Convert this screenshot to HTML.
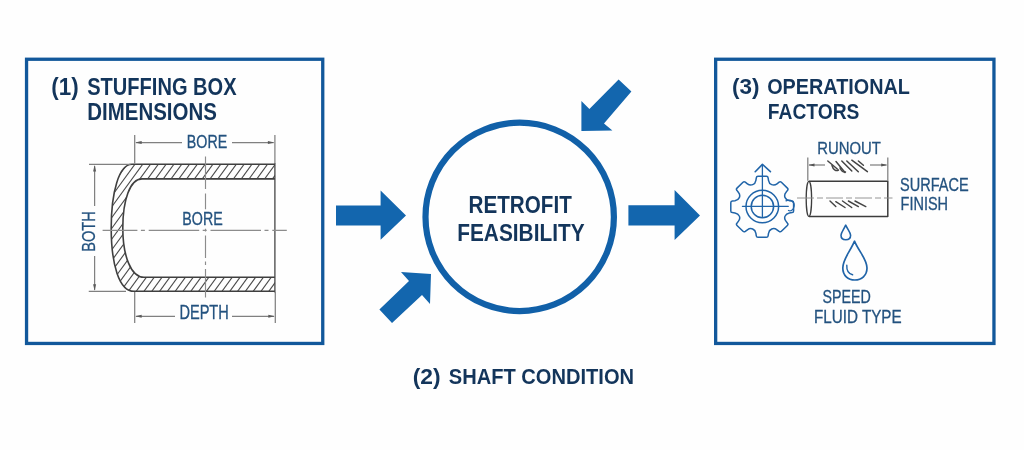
<!DOCTYPE html>
<html><head><meta charset="utf-8"><title>Retrofit Feasibility</title>
<style>
html,body{margin:0;padding:0;background:#fefefe;}
body{width:1024px;height:450px;overflow:hidden;font-family:"Liberation Sans",sans-serif;}
svg{display:block;}
text{font-family:"Liberation Sans",sans-serif;}
.h{font-weight:bold;fill:#13355b;}
.l{fill:#23527f;stroke:#23527f;stroke-width:0.3;}
.dk{stroke:#3a3a3a;fill:none;}
.th{stroke:#808080;fill:none;stroke-width:1.25;}
.cl{stroke:#8c8c8c;fill:none;stroke-width:1.15;}
.bl{stroke:#2064a8;fill:none;stroke-width:1.5;stroke-linecap:round;stroke-linejoin:round;}
.ar{fill:#1366ae;}
</style></head><body>
<svg width="1024" height="450" viewBox="0 0 1024 450" style="will-change:transform">
<defs>

</defs>
<rect width="1024" height="450" fill="#fefefe"/>

<!-- Box 1 -->
<rect x="26.55" y="59.25" width="296.2" height="284.2" fill="none" stroke="#12589b" stroke-width="3.3"/>
<text class="h" x="51.3" y="95.3" font-size="23.2" textLength="27.4" lengthAdjust="spacingAndGlyphs">(1)</text>
<text class="h" x="87.2" y="95.3" font-size="23.2" textLength="149.4" lengthAdjust="spacingAndGlyphs">STUFFING BOX</text>
<text class="h" x="87.2" y="120" font-size="23.2" textLength="129.7" lengthAdjust="spacingAndGlyphs">DIMENSIONS</text>

<!-- stuffing box drawing -->
<g>
<clipPath id="wall"><path d="M274.9,164.3 L132,164.3 C119,164.3 111.2,192 111.2,228 C111.2,264 119,291.3 134,291.3 L274.9,291.3 L274.9,277.3 L144,277.3 C131,277.3 122.8,256 122.8,228 C122.8,200 130,178.9 142,178.9 L274.9,178.9 Z"/></clipPath>
<g clip-path="url(#wall)" stroke="#484848" stroke-width="1.1"><line x1="8.0" y1="296" x2="106.8" y2="160"/><line x1="15.8" y1="296" x2="114.6" y2="160"/><line x1="23.6" y1="296" x2="122.4" y2="160"/><line x1="31.4" y1="296" x2="130.2" y2="160"/><line x1="39.2" y1="296" x2="138.0" y2="160"/><line x1="47.0" y1="296" x2="145.8" y2="160"/><line x1="54.8" y1="296" x2="153.6" y2="160"/><line x1="62.6" y1="296" x2="161.4" y2="160"/><line x1="70.4" y1="296" x2="169.2" y2="160"/><line x1="78.2" y1="296" x2="177.0" y2="160"/><line x1="86.0" y1="296" x2="184.8" y2="160"/><line x1="93.8" y1="296" x2="192.6" y2="160"/><line x1="101.6" y1="296" x2="200.4" y2="160"/><line x1="109.4" y1="296" x2="208.2" y2="160"/><line x1="117.2" y1="296" x2="216.0" y2="160"/><line x1="125.0" y1="296" x2="223.8" y2="160"/><line x1="132.8" y1="296" x2="231.6" y2="160"/><line x1="140.6" y1="296" x2="239.4" y2="160"/><line x1="148.4" y1="296" x2="247.2" y2="160"/><line x1="156.2" y1="296" x2="255.0" y2="160"/><line x1="164.0" y1="296" x2="262.8" y2="160"/><line x1="171.8" y1="296" x2="270.6" y2="160"/><line x1="179.6" y1="296" x2="278.4" y2="160"/><line x1="187.4" y1="296" x2="286.2" y2="160"/><line x1="195.2" y1="296" x2="294.0" y2="160"/><line x1="203.0" y1="296" x2="301.8" y2="160"/><line x1="210.8" y1="296" x2="309.6" y2="160"/><line x1="218.6" y1="296" x2="317.4" y2="160"/><line x1="226.4" y1="296" x2="325.2" y2="160"/><line x1="234.2" y1="296" x2="333.0" y2="160"/><line x1="242.0" y1="296" x2="340.8" y2="160"/><line x1="249.8" y1="296" x2="348.6" y2="160"/><line x1="257.6" y1="296" x2="356.4" y2="160"/><line x1="265.4" y1="296" x2="364.2" y2="160"/><line x1="273.2" y1="296" x2="372.0" y2="160"/><line x1="281.0" y1="296" x2="379.8" y2="160"/><line x1="288.8" y1="296" x2="387.6" y2="160"/></g>
<path d="M274.9,164.3 L132,164.3 C119,164.3 111.2,192 111.2,228 C111.2,264 119,291.3 134,291.3 L274.9,291.3 M274.9,277.3 L144,277.3 C131,277.3 122.8,256 122.8,228 C122.8,200 130,178.9 142,178.9 L274.9,178.9" fill="none" stroke="#3f3f3f" stroke-width="1.6" stroke-linejoin="round"/>
<line class="th" x1="274.9" y1="163" x2="274.9" y2="292.5" style="stroke-width:1.3;stroke:#444"/>
<!-- center lines -->
<line class="cl" x1="102.6" y1="230.4" x2="286.8" y2="230.4" stroke-dasharray="50.5 3.5 4 3.8" stroke-dashoffset="15.7"/>
<path class="cl" d="M205.5,156.4 V189 M205.5,193.5 V209.2 M205.5,228.7 V231.5 M205.5,235.5 V258 M205.5,261.5 V265 M205.5,269 V297.5"/>
<!-- top BORE dim -->
<line class="th" x1="134.7" y1="135" x2="134.7" y2="163.6"/>
<line class="th" x1="274.9" y1="135" x2="274.9" y2="163.6"/>
<line class="th" x1="136" y1="142.5" x2="182" y2="142.5"/>
<line class="th" x1="232" y1="142.5" x2="273.6" y2="142.5"/>
<path d="M135.2,142.5 l6.5,-1.5 v3 Z" fill="#5a5a5a"/>
<path d="M274.4,142.5 l-6.5,-1.5 v3 Z" fill="#5a5a5a"/>
<text class="l" x="186.8" y="148.1" font-size="17.6" textLength="40.4" lengthAdjust="spacingAndGlyphs">BORE</text>
<!-- middle BORE -->
<text class="l" x="182.3" y="224.8" font-size="17.9" textLength="40.4" lengthAdjust="spacingAndGlyphs">BORE</text>
<!-- bottom DEPTH dim -->
<line class="th" x1="134.7" y1="292" x2="134.7" y2="323"/>
<line class="th" x1="275.3" y1="292" x2="275.3" y2="323"/>
<line class="th" x1="136" y1="316.25" x2="175" y2="316.25"/>
<line class="th" x1="232" y1="316.25" x2="274" y2="316.25"/>
<path d="M135.2,316.25 l6.5,-1.5 v3 Z" fill="#5a5a5a"/>
<path d="M274.8,316.25 l-6.5,-1.5 v3 Z" fill="#5a5a5a"/>
<text class="l" x="179.4" y="318.75" font-size="19.5" textLength="49.4" lengthAdjust="spacingAndGlyphs">DEPTH</text>
<!-- BOTH dim -->
<line class="th" x1="89" y1="164.3" x2="130.6" y2="164.3"/>
<line class="th" x1="88.75" y1="291.25" x2="126" y2="291.25"/>
<line class="th" x1="94.6" y1="166" x2="94.6" y2="206"/>
<line class="th" x1="94.6" y1="256" x2="94.6" y2="290"/>
<path d="M94.6,165 l-1.5,6.5 h3 Z" fill="#5a5a5a"/>
<path d="M94.6,290.8 l-1.5,-6.5 h3 Z" fill="#5a5a5a"/>
<text class="l" transform="translate(94.7,251.8) rotate(-90)" x="0" y="0" font-size="17.9" textLength="40.5" lengthAdjust="spacingAndGlyphs">BOTH</text>
</g>

<!-- Arrows -->
<polygon class="ar" points="336,205.4 380.6,205.4 380.6,190.6 406,215.6 380.6,239.8 380.6,225.5 336,225.5"/>
<polygon class="ar" points="628.4,205.2 674.6,205.2 674.6,190 700,215.6 674.6,240 674.6,225.6 628.4,225.6"/>
<polygon class="ar" points="581.4,131 581.4,101 589.4,109 618.6,79.6 631.4,91.6 604,123.6 612.4,130.6"/>
<polygon class="ar" points="431,274 401,272 409,281 379.4,309.4 392,323 422,295 430,304"/>

<!-- Circle -->
<circle cx="519.7" cy="216.9" r="94.2" fill="none" stroke="#1160a8" stroke-width="6.2"/>
<text class="h" x="468.6" y="213.4" font-size="23.7" textLength="103.2" lengthAdjust="spacingAndGlyphs">RETROFIT</text>
<text class="h" x="457.2" y="241.4" font-size="23.7" textLength="127.4" lengthAdjust="spacingAndGlyphs">FEASIBILITY</text>

<text class="h" x="412.7" y="384" font-size="22.6" textLength="27.9" lengthAdjust="spacingAndGlyphs">(2)</text>
<text class="h" x="448.8" y="384" font-size="22.6" textLength="185.3" lengthAdjust="spacingAndGlyphs">SHAFT CONDITION</text>

<!-- Box 3 -->
<rect x="715.65" y="59.25" width="278.3" height="284.2" fill="none" stroke="#12589b" stroke-width="3.3"/>
<text class="h" x="731.9" y="94.4" font-size="22.6" textLength="27.5" lengthAdjust="spacingAndGlyphs">(3)</text>
<text class="h" x="767.2" y="94.4" font-size="22.6" textLength="142.8" lengthAdjust="spacingAndGlyphs">OPERATIONAL</text>
<text class="h" x="767.8" y="118.75" font-size="22.6" textLength="91.6" lengthAdjust="spacingAndGlyphs">FACTORS</text>

<!-- gear -->
<path class="bl" d="M752.7,184.6 Q755.4,183.5 755.9,180.3 L756.3,177.8 Q756.5,176.3 758.0,176.3 L766.4,176.3 Q767.9,176.3 768.1,177.8 L768.5,180.3 Q769.0,183.5 771.7,184.6 L771.7,184.6 Q774.4,185.7 777.0,183.8 L779.1,182.2 Q780.4,181.3 781.4,182.3 L787.4,188.1 Q788.5,189.2 787.5,190.4 L785.9,192.5 Q783.9,195.0 785.1,197.6 L785.1,197.6 Q786.2,200.2 789.4,200.7 L792.1,201.0 Q793.6,201.2 793.6,202.7 L793.6,210.9 Q793.6,212.4 792.1,212.6 L789.4,212.9 Q786.2,213.4 785.1,216.0 L785.1,216.0 Q783.9,218.6 785.9,221.1 L787.5,223.2 Q788.5,224.4 787.4,225.5 L781.4,231.3 Q780.4,232.3 779.1,231.4 L777.0,229.8 Q774.4,227.9 771.7,229.0 L771.7,229.0 Q769.0,230.1 768.5,233.3 L768.1,235.8 Q767.9,237.3 766.4,237.3 L758.0,237.3 Q756.5,237.3 756.3,235.8 L755.9,233.3 Q755.4,230.1 752.7,229.0 L752.7,229.0 Q750.0,227.9 747.4,229.8 L745.3,231.4 Q744.0,232.3 743.0,231.3 L737.0,225.5 Q735.9,224.4 736.9,223.2 L738.5,221.1 Q740.5,218.6 739.3,216.0 L739.3,216.0 Q738.2,213.4 735.0,212.9 L732.3,212.6 Q730.8,212.4 730.8,210.9 L730.8,202.7 Q730.8,201.2 732.3,201.0 L735.0,200.7 Q738.2,200.2 739.3,197.6 L739.3,197.6 Q740.5,195.0 738.5,192.5 L736.9,190.4 Q735.9,189.2 737.0,188.1 L743.0,182.3 Q744.0,181.3 745.3,182.2 L747.4,183.8 Q750.0,185.7 752.7,184.6Z"/>
<circle class="bl" cx="762.3" cy="206.5" r="16.3"/>
<circle class="bl" cx="762.4" cy="206.5" r="11.2"/>
<line class="bl" x1="742.4" y1="206.3" x2="788.3" y2="206.3" style="stroke-width:1.3"/>
<line class="bl" x1="762.4" y1="165" x2="762.4" y2="216.7" style="stroke-width:1.3"/>
<path class="bl" d="M755.2,171.7 L762.4,164.4 L770.4,171.7" style="stroke-width:1.6"/>
<path class="bl" d="M786,200.8 C791,198.5 795,202.5 794,206.5 C793.5,210 790.5,211.5 788.5,210.5" style="stroke-width:1.3"/>

<!-- shaft cylinder -->
<path d="M809,181.3 L887.8,181.3 L887.8,216.4 L809,216.4" fill="none" stroke="#3d3d3d" stroke-width="1.5" stroke-linejoin="round"/>
<ellipse cx="808.9" cy="198.85" rx="2.7" ry="17.55" fill="none" stroke="#3d3d3d" stroke-width="1.3"/>
<line class="th" x1="797" y1="198" x2="892.5" y2="198" stroke-dasharray="17 3 6 3" style="stroke:#8a8a8a;stroke-width:0.9"/>
<!-- runout dim -->
<line class="th" x1="807.8" y1="157.5" x2="807.8" y2="180.8"/>
<line class="th" x1="887.8" y1="157.5" x2="887.8" y2="180.8"/>
<line class="th" x1="809" y1="165" x2="825" y2="165"/>
<line class="th" x1="870" y1="165" x2="886.5" y2="165"/>
<path d="M808.5,165 l6,-1.5 v3 Z" fill="#555"/>
<path d="M887.2,165 l-6,-1.5 v3 Z" fill="#555"/>
<g stroke="#454545" stroke-width="1.5" fill="none" stroke-linecap="round">
<path d="M827.8,161 l9.5,8 M836,161.6 l9,10.8 M841.8,161 l10,10 M846.8,161 l11.5,10.8 M851.8,160.2 l15.6,11.4 M858.4,161 l5,4.2"/>
<path d="M832,165.5 c1,4 4,6 6.5,4.5 M840,168 c1.5,3 3.5,4.5 5.5,4"/>
</g>
<g stroke="#454545" stroke-width="1.45" fill="none" stroke-linecap="round">
<path d="M830,201 l5.8,5.6 M835.8,201.7 l9.2,5.8 M842.5,201 l9.2,6.5 M848.4,201 l10,5.6 M855,201 l10.8,5.6"/>
</g>
<text class="l" x="817.3" y="153.5" font-size="17.3" textLength="63.6" lengthAdjust="spacingAndGlyphs">RUNOUT</text>
<text class="l" x="900" y="191.4" font-size="17.5" textLength="68.7" lengthAdjust="spacingAndGlyphs">SURFACE</text>
<text class="l" x="900.6" y="210" font-size="17.5" textLength="47.5" lengthAdjust="spacingAndGlyphs">FINISH</text>

<!-- drops -->
<path class="bl" d="M845.7,225.2 C843.5,230 841,232.5 841,235.3 C841,238 843,239.8 845.8,239.8 C848.6,239.8 850.6,238 850.6,235.3 C850.6,232.5 848,230 845.7,225.2 Z" style="stroke-width:1.6"/>
<path class="bl" d="M854.5,241.2 C850,252 842.8,259 842.8,268 C842.8,275.5 848,280 854.8,280 C861.6,280 867,275.5 867,268 C867,259 859,252 854.5,241.2 Z" style="stroke-width:1.7"/>
<path class="bl" d="M846.8,265.2 C846.5,270.5 848.8,273.8 852.6,274.8" style="stroke-width:1.4"/>

<text class="l" x="822.5" y="303.4" font-size="18.1" textLength="48.4" lengthAdjust="spacingAndGlyphs">SPEED</text>
<text class="l" x="814" y="323.1" font-size="18.1" textLength="87.6" lengthAdjust="spacingAndGlyphs">FLUID TYPE</text>
</svg>
</body></html>
